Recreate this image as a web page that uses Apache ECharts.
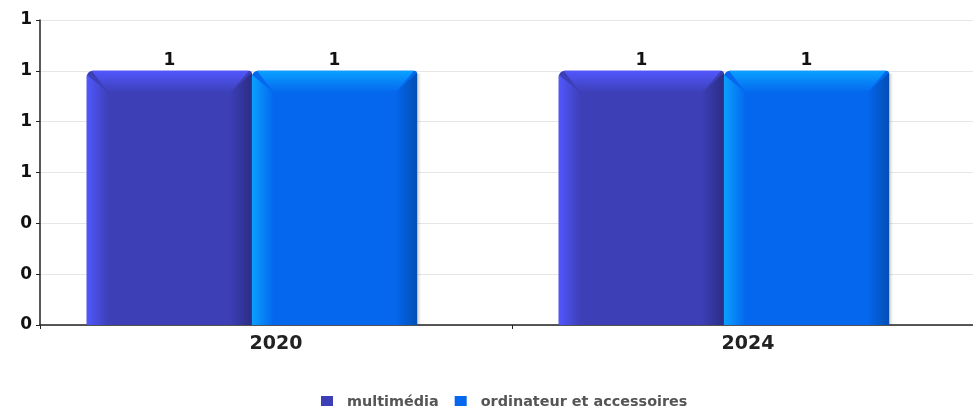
<!DOCTYPE html>
<html><head><meta charset="utf-8">
<script src="https://cdn.jsdelivr.net/npm/echarts@6/dist/echarts.min.js"></script>
<style>html,body{margin:0;padding:0;background:#fff;overflow:hidden}#c{width:984px;height:406px}</style>
</head><body><div id="c"></div>
<script>
const categories = ['2020', '2024'];
const seriesNames = ['multimédia', 'ordinateur et accessoires'];
const multimedia = [1, 1];
const ordinateur = [1, 1];

const palette = [
  {main: '#3c3fb6', light: '#5157fd', dark: '#2b2d84'},
  {main: '#0467ee', light: '#0aa0ff', dark: '#034fb4'}
];

function makeRender(si) {
  return function (params, api) {
    const cat = api.value(0), val = api.value(1);
    const base = api.coord([cat, 0]);
    const top = api.coord([cat, val]);
    const bw = api.size([1, 0])[0];
    const w = bw * 0.35;
    const shift = bw * 0.051;
    const x0 = base[0] - shift - w + si * w;
    const y0 = top[1], y1 = base[1];
    const h = y1 - y0;
    const b = Math.min(22, w / 4, h / 3);
    const c = palette[si];
    const x1 = x0 + w;
    const grad = (stops, dir) => new echarts.graphic.LinearGradient(dir[0], dir[1], dir[2], dir[3], stops);
    return {
      type: 'group',
      children: [
        {type: 'rect', shape: {x: x1, y: y0 + 3, width: 4, height: h - 3}, style: {fill: grad([{offset: 0, color: 'rgba(0,0,0,0.18)'}, {offset: 1, color: 'rgba(0,0,0,0)'}], [0, 0, 1, 0])}},
        {type: 'rect', shape: {x: x0, y: y0, width: w, height: h, r: [6, 3, 0, 0]}, style: {fill: c.main}},
        {type: 'polygon', shape: {points: [[x0, y0 + 4], [x0 + b, y0 + b], [x0 + b, y1], [x0, y1]]},
          style: {fill: grad([{offset: 0, color: c.light}, {offset: 1, color: c.main}], [0, 0, 1, 0])}},
        {type: 'polygon', shape: {points: [[x1, y0 + 2], [x1, y1], [x1 - b, y1], [x1 - b, y0 + b]]},
          style: {fill: grad([{offset: 0, color: c.main}, {offset: 1, color: c.dark}], [0, 0, 1, 0])}},
        {type: 'polygon', shape: {points: [[x0 + 5, y0], [x1 - 3, y0], [x1 - b, y0 + b], [x0 + b, y0 + b]]},
          style: {fill: grad([{offset: 0, color: c.light}, {offset: 1, color: c.main}], [0, 0, 0, 1])}},
        {type: 'text', x: x0 + w / 2, y: y0 - 2,
          style: {text: String(Math.round(val)), fill: '#111', font: 'bold 17px "DejaVu Sans"', textAlign: 'center', textVerticalAlign: 'bottom'}}
      ]
    };
  };
}

const chart = echarts.init(document.getElementById('c'));
chart.setOption({
  animation: false,
  textStyle: {fontFamily: 'DejaVu Sans'},
  grid: {left: 40, right: 0, top: 20, bottom: 81, containLabel: false},
  legend: {
    top: 390, left: 316, itemWidth: 12, itemHeight: 12, itemGap: 16, icon: 'rect',
    textStyle: {fontWeight: 'bold', fontSize: 14.4, color: '#555', fontFamily: 'DejaVu Sans', padding: [0, 0, 0, 9]},
    data: seriesNames
  },
  xAxis: {
    type: 'category', data: categories,
    axisLine: {lineStyle: {color: '#222', width: 1.5}},
    axisTick: {show: true, length: 4, lineStyle: {color: '#222'}},
    axisLabel: {fontWeight: 'bold', fontSize: 19, color: '#222', margin: 10},
    splitLine: {show: false}
  },
  yAxis: {
    type: 'value', min: 0, max: 1.2, interval: 0.2,
    axisLine: {show: true, lineStyle: {color: '#222', width: 1.5}},
    axisTick: {show: true, length: 4, lineStyle: {color: '#222'}},
    axisLabel: {fontWeight: 'bold', fontSize: 17, color: '#111', margin: 8, formatter: v => String(Math.round(v))},
    splitLine: {lineStyle: {color: '#e6e6e6'}}
  },
  series: [
    {name: seriesNames[0], type: 'custom', renderItem: makeRender(0), itemStyle: {color: palette[0].main},
      data: multimedia.map((v, i) => [i, v]), encode: {x: 0, y: 1}},
    {name: seriesNames[1], type: 'custom', renderItem: makeRender(1), itemStyle: {color: palette[1].main},
      data: ordinateur.map((v, i) => [i, v]), encode: {x: 0, y: 1}}
  ]
});
</script></body></html>
